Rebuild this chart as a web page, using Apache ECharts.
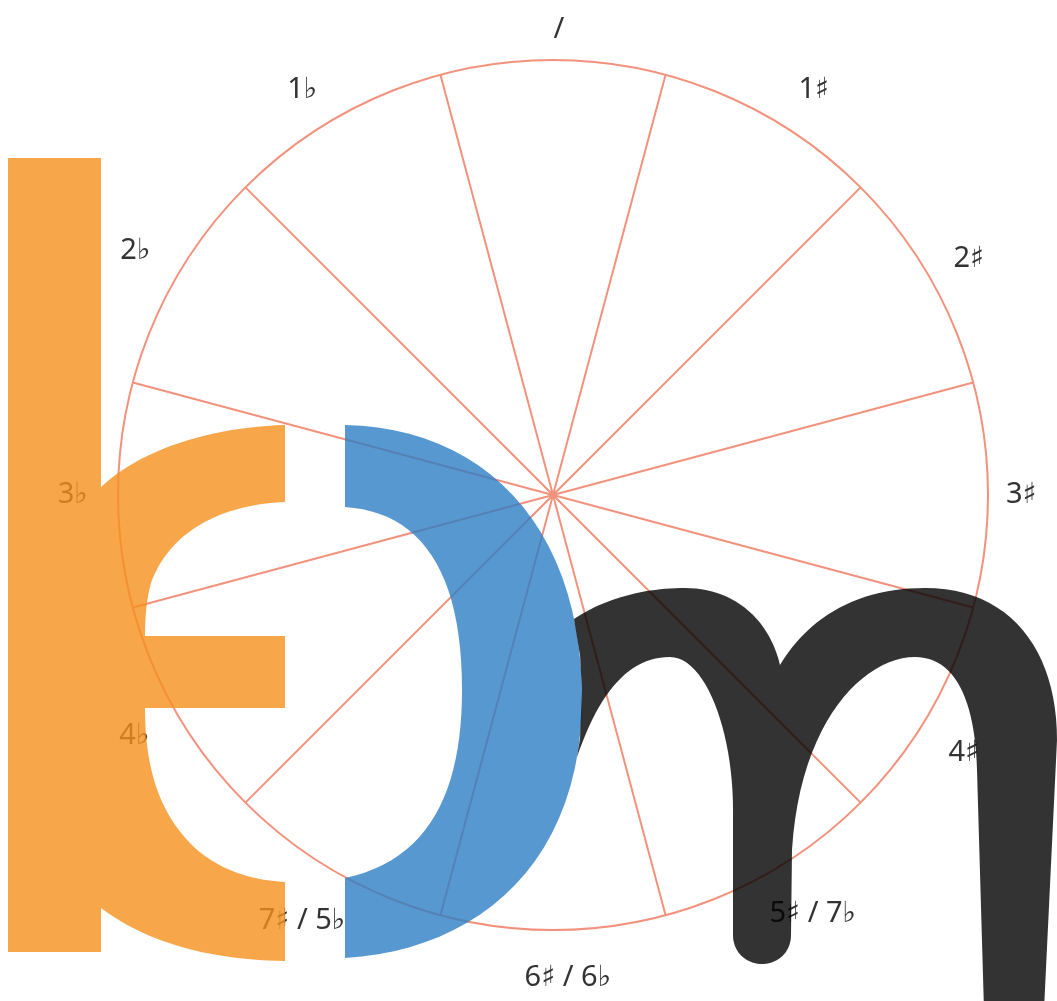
<!DOCTYPE html>
<html>
<head>
<meta charset="utf-8">
<script src="https://cdn.jsdelivr.net/npm/echarts@6/dist/echarts.min.js"></script>
<style>
  html, body { margin: 0; padding: 0; background: #fff; }
  #main { width: 1057px; height: 1001px; }
</style>
</head>
<body>
<div id="main"></div>
<script>
// 调号（五度圈顺序，顺时针从顶部开始）
const keys = ['/', '1♯', '2♯', '3♯', '4♯', '5♯ / 7♭', '6♯ / 6♭', '7♯ / 5♭', '4♭', '3♭', '2♭', '1♭']

// 每个标签的内边距 [上, 右, 下, 左]，用来微调位置
const labelPad = [
  [0, 0, 36, 12], [0, 0, 31, 38], [0, 0, 14, 41], [0, 0, 6, 38],
  [36, 0, 0, 36], [45, 0, 0, 9], [53, 0, 0, 30], [52, 0, 0, 0],
  [19, 44, 0, 0], [0, 50, 6, 0], [0, 43, 22, 0], [0, 28, 31, 0]
]

const lineColor = '#f2917c'

// 字母图形 k / ↄ / m 的轮廓
const logoK =
  'M8 158L101 158L101 487C140 450 210 427 285 425L285 502' +
  'C215 505 170 535 152 580C147 595 145 615 145 636L285 636L285 708L145 708' +
  'C145 770 160 815 195 848C220 870 250 880 285 882L285 961' +
  'C215 960 150 945 101 908L101 952L8 952Z'
const logoC =
  'M345 425C480 428 578 520 582 690C585 860 480 950 345 958L345 878' +
  'C430 860 462 790 462 690C462 570 420 512 345 507Z'
const logoM =
  'M577 757L580 739L582 690L580 655L574 619C605 598 645 588 685 588C730 588 768 615 780 665' +
  'C810 615 860 588 925 588C1010 588 1057 650 1057 740L1044 1010L984 1010L977 770' +
  'C975 700 955 657 915 657C865 657 800 720 792 850L791 935' +
  'C791 952 778 964 762 964C746 964 733 952 733 935L733 810' +
  'C733 730 705 657 670 657C630 657 600 690 577 757Z'

/**
 * 把简单的 M/L/C 路径转成多边形点
 */
function toPoints(d) {
  const tokens = d.match(/[MLCZ]|-?\d+(\.\d+)?/g)
  const pts = []
  let i = 0
  let cur = [0, 0]
  let cmd = ''
  const num = () => parseFloat(tokens[i++])
  while (i < tokens.length) {
    if (/[MLCZ]/.test(tokens[i])) cmd = tokens[i++]
    if (cmd === 'Z') break
    if (cmd === 'M' || cmd === 'L') {
      cur = [num(), num()]
      pts.push(cur)
    } else if (cmd === 'C') {
      const p1 = [num(), num()]
      const p2 = [num(), num()]
      const p3 = [num(), num()]
      const p0 = cur
      for (let s = 1; s <= 24; s++) {
        const t = s / 24
        const u = 1 - t
        pts.push([
          u * u * u * p0[0] + 3 * u * u * t * p1[0] + 3 * u * t * t * p2[0] + t * t * t * p3[0],
          u * u * u * p0[1] + 3 * u * u * t * p1[1] + 3 * u * t * t * p2[1] + t * t * t * p3[1]
        ])
      }
      cur = p3
    }
  }
  return pts
}

const chart = echarts.init(document.getElementById('main'))

const option = {
  animation: false,
  polar: {
    center: [553, 495],
    radius: 435
  },
  angleAxis: {
    type: 'category',
    data: keys.map((k, i) => ({ value: k, textStyle: { padding: labelPad[i] } })),
    startAngle: 105,
    clockwise: true,
    boundaryGap: true,
    axisLine: { lineStyle: { color: lineColor, width: 2 } },
    axisTick: { show: false },
    axisLabel: {
      color: '#333',
      fontSize: 29,
      fontFamily: '"Noto Sans", "DejaVu Sans", sans-serif',
      margin: -20
    },
    splitLine: { show: true, lineStyle: { color: lineColor, width: 2 } }
  },
  radiusAxis: {
    type: 'value',
    min: 0,
    max: 1,
    axisLine: { show: false },
    axisTick: { show: false },
    axisLabel: { show: false },
    splitLine: { show: false }
  },
  graphic: [
    { type: 'polygon', z: 100, shape: { points: toPoints(logoK) }, style: { fill: '#f5901d', opacity: 0.8 } },
    { type: 'polygon', z: 100, shape: { points: toPoints(logoC) }, style: { fill: '#2d7ec4', opacity: 0.8 } },
    { type: 'polygon', z: 100, shape: { points: toPoints(logoM) }, style: { fill: '#000', opacity: 0.8 } }
  ],
  series: [
    { type: 'bar', coordinateSystem: 'polar', data: [] }
  ]
}

chart.setOption(option)
</script>
</body>
</html>
